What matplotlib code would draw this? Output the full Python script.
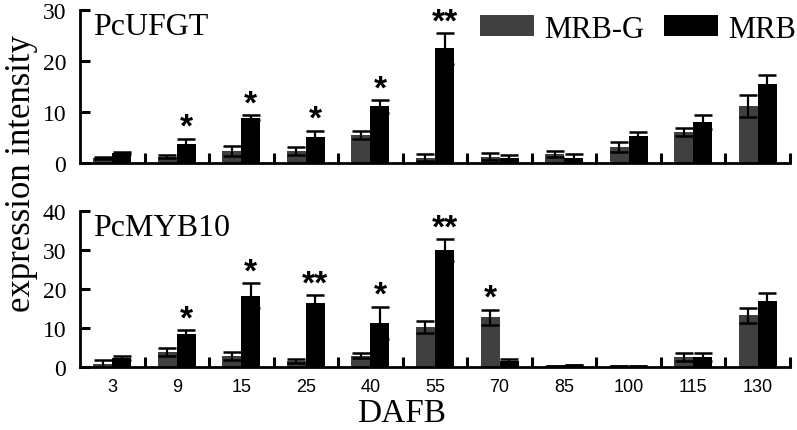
import matplotlib
matplotlib.use("Agg")
import matplotlib.pyplot as plt
import numpy as np

# --- data ---
dafb = ["3", "9", "15", "25", "40", "55", "70", "85", "100", "115", "130"]

ufgt_g = [0.9, 1.2, 2.3, 2.3, 5.5, 1.0, 1.2, 1.8, 3.2, 6.0, 11.2]
ufgt_g_err = [0.2, 0.3, 1.0, 0.8, 0.8, 0.7, 0.7, 0.6, 1.0, 0.8, 2.2]
ufgt_m = [2.0, 3.8, 8.9, 5.1, 11.1, 22.5, 0.9, 0.9, 5.2, 8.1, 15.5]
ufgt_m_err = [0.2, 1.0, 0.5, 1.2, 1.2, 3.0, 0.7, 0.9, 0.8, 1.4, 1.8]
ufgt_sig = ["", "*", "*", "*", "*", "**", "", "", "", "", ""]

myb_g = [0.8, 3.8, 2.9, 1.5, 2.9, 10.3, 12.7, 0.3, 0.3, 2.5, 13.3]
myb_g_err = [1.1, 1.1, 1.0, 0.6, 0.7, 1.6, 2.0, 0.0, 0.0, 1.0, 1.9]
myb_m = [2.3, 8.5, 18.3, 16.4, 11.3, 30.0, 1.6, 0.5, 0.3, 2.5, 16.9]
myb_m_err = [0.6, 1.0, 3.2, 2.0, 4.2, 2.7, 0.5, 0.0, 0.0, 1.0, 2.0]
# significance marker and which bar it sits on
myb_sig = ["", "*", "*", "**", "*", "**", "*", "", "", "", ""]
myb_sig_on_g = [False, False, False, False, False, False, True, False, False, False, False]

GRAY = "#404040"
SERIF = "Liberation Serif"
SANS = "Liberation Sans"

fig = plt.figure(figsize=(7.97, 4.31), dpi=100)
ax1 = fig.add_axes([80 / 797, 1 - 164 / 431, 710 / 797, 153 / 431])
ax2 = fig.add_axes([80 / 797, 1 - 368 / 431, 710 / 797, 156 / 431])

x = np.arange(len(dafb))
w = 0.295


def draw_panel(ax, g, g_err, m, m_err, sig, sig_on_g, ymax, name):
    ax.bar(x - w / 2, g, w, color=GRAY, label="MRB-G")
    ax.bar(x + w / 2, m, w, color="black", label="MRB")
    ekw = dict(fmt="none", ecolor="black", elinewidth=1.6, capsize=6.5, capthick=1.8)
    ax.errorbar(x - w / 2, g, yerr=g_err, **ekw)
    ax.errorbar(x + w / 2, m, yerr=m_err, **ekw)
    for i, s in enumerate(sig):
        if not s:
            continue
        if sig_on_g[i]:
            xs, top = x[i] - w / 2, g[i] + g_err[i]
        else:
            xs, top = x[i] + w / 2, m[i] + m_err[i]
        ax.annotate(s, (xs, top), xytext=(0, -3), textcoords="offset points",
                    ha="center", va="bottom", fontsize=24, fontweight="bold",
                    family=SANS)

    ax.set_xlim(-0.5, len(dafb) - 0.5)
    ax.set_ylim(0, ymax)
    ax.set_yticks(np.arange(0, ymax + 1, 10))
    for lab in ax.get_yticklabels():
        lab.set_fontfamily(SERIF)
        lab.set_fontsize(17)
    ax.tick_params(axis="y", direction="in", length=7, width=2.2, pad=10)
    # ticks at group boundaries, labels at centres
    ax.set_xticks(np.arange(0.5, len(dafb), 1.0))
    ax.set_xticklabels([])
    ax.set_xticks(x, minor=True)
    ax.tick_params(axis="x", which="major", direction="in", length=7, width=2.2)
    ax.tick_params(axis="x", which="minor", length=0, pad=8)
    for sp in ["top", "right"]:
        ax.spines[sp].set_visible(False)
    for sp in ["left", "bottom"]:
        ax.spines[sp].set_linewidth(2)
    ax.text(0.018, 0.99, name, transform=ax.transAxes, ha="left", va="top",
            fontsize=23, family=SERIF)


draw_panel(ax1, ufgt_g, ufgt_g_err, ufgt_m, ufgt_m_err, ufgt_sig,
           [False] * len(dafb), 30, "PcUFGT")
draw_panel(ax2, myb_g, myb_g_err, myb_m, myb_m_err, myb_sig,
           myb_sig_on_g, 40, "PcMYB10")

ax1.set_xticks(x, [""] * len(dafb), minor=True)
ax2.set_xticks(x, dafb, minor=True)
for lab in ax2.get_xticklabels(minor=True):
    lab.set_fontfamily(SANS)
    lab.set_fontsize(13)

ax1.legend(loc="upper right", bbox_to_anchor=(716 / 710, 0.97),
           ncol=2, frameon=False,
           prop={"family": SERIF, "size": 22}, handlelength=1.76,
           handleheight=0.69, handletextpad=0.33, columnspacing=0.65,
           borderaxespad=0, borderpad=0)

fig.text(22 / 797, 1 - 174 / 431, "expression intensity", rotation=90,
         ha="center", va="center", fontsize=25, family=SERIF)
fig.text(402 / 797, 1 - 414 / 431, "DAFB", ha="center", va="center",
         fontsize=24, family=SERIF)

fig.savefig("out.png", dpi=100)
